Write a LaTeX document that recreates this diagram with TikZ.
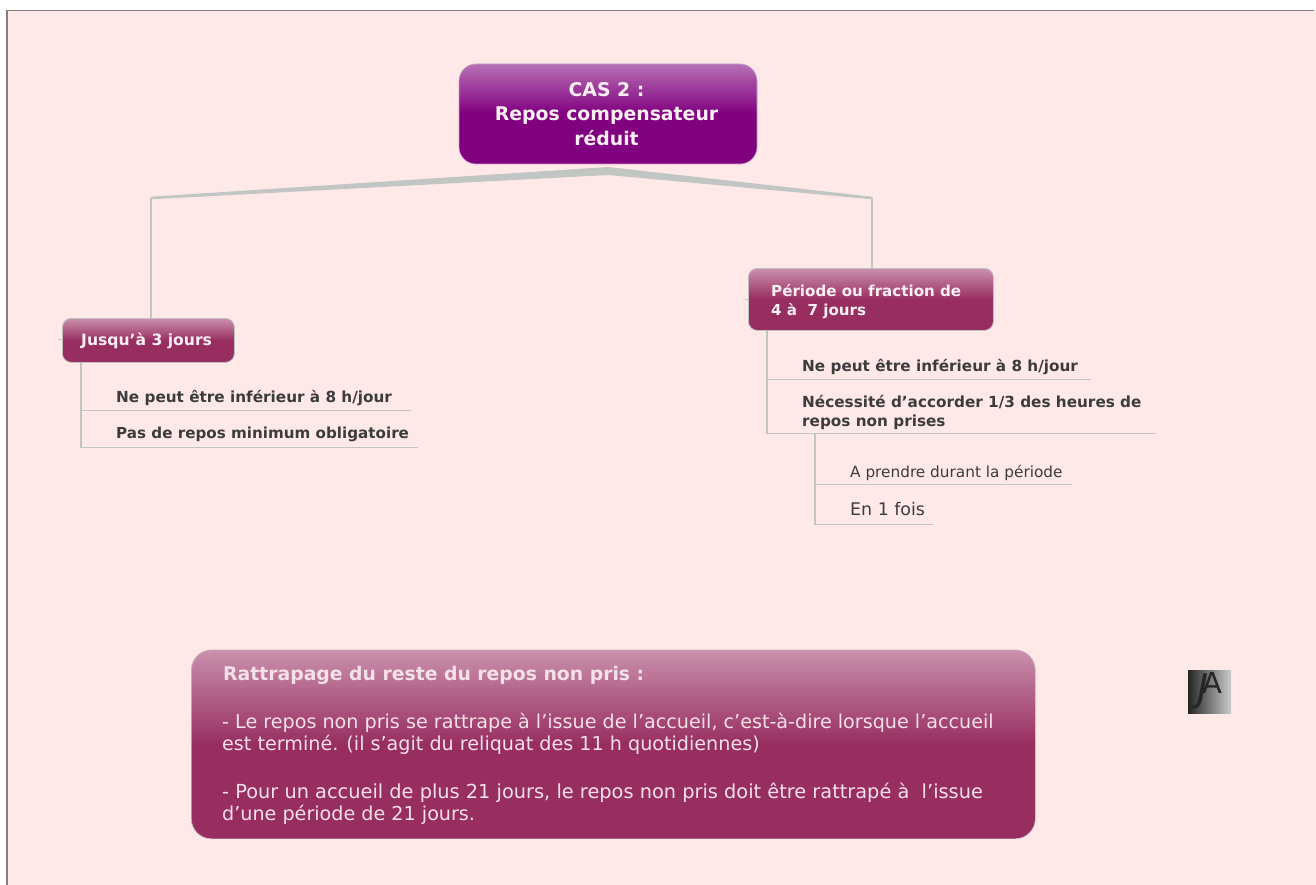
\documentclass[tikz,border=0pt]{standalone}
\usepackage{fontspec}
\usetikzlibrary{calc}
\setmainfont{DejaVu Sans}
\definecolor{bgpink}{HTML}{FFE9E8}
\definecolor{framegray}{HTML}{808080}
\definecolor{linegray}{HTML}{C2C6C2}
\definecolor{txtdark}{HTML}{3C3C3C}
\definecolor{txtlight}{HTML}{FBEFF3}
\definecolor{pdark}{HTML}{800080}
\definecolor{plight}{HTML}{B670B4}
\definecolor{mdark}{HTML}{982E60}
\definecolor{mlight}{HTML}{CA90AC}
\pgfdeclareverticalshading{purpleshade}{100bp}{color(0bp)=(pdark); color(50bp)=(pdark); color(75bp)=(plight); color(100bp)=(plight)}
\pgfdeclareverticalshading{plumshade}{100bp}{color(0bp)=(mdark); color(50bp)=(mdark); color(75bp)=(mlight); color(100bp)=(mlight)}
\pgfdeclareverticalshading{logoshade}{100bp}{color(0bp)=(black!85); color(25bp)=(black!85); color(75bp)=(black!20); color(100bp)=(black!20)}
\tikzset{
  rootbox/.style={rounded corners=17pt, shading=purpleshade, draw=plight!70, line width=.6pt, inner sep=0pt, minimum width=298pt, minimum height=100pt},
  roottext/.style={inner sep=0pt, text=txtlight, align=center, font=\fontsize{18.85}{24.5}\selectfont\bfseries},
  plumbox/.style={rounded corners=9pt, shading=plumshade, draw=black!25, line width=.8pt, inner sep=0pt},
  notebox/.style={rounded corners=20pt, shading=plumshade, draw=black!20, line width=.6pt, inner sep=0pt, minimum width=844pt, minimum height=189pt},
  boxtext/.style={inner sep=0pt, anchor=base west, text=txtlight, font=\fontsize{15.1}{19}\selectfont\bfseries},
  leaftext/.style={inner sep=0pt, anchor=base west, text=txtdark, font=\fontsize{15.25}{19}\selectfont\bfseries},
  subtext/.style={inner sep=0pt, anchor=base west, text=txtdark, font=\fontsize{15.3}{19}\selectfont},
  notetext/.style={inner sep=0pt, anchor=base west, text=txtlight!85!mlight, font=\fontsize{19.15}{21}\selectfont},
  stem/.style={draw=linegray, line width=2pt},
  rule/.style={draw=linegray, line width=1.2pt},
  taper/.style={fill=linegray, draw=none},
}
\begin{document}
\begin{tikzpicture}[x=1pt,y=-1pt]
\useasboundingbox (0,0) rectangle (1316,885);
\fill[white] (0,0) rectangle (1316,885);
\fill[bgpink] (7,10) rectangle (1316,885);
\draw[framegray, line width=1.5pt] (7,885) -- (7,10.5) -- (1314,10.5);

% connector coordinates
\coordinate (hub) at (608,168);
\coordinate (kneeL) at (151,198);
\coordinate (kneeR) at (872,198);
\coordinate (treeLa) at (81,410.5);
\coordinate (treeLb) at (81,447.5);
\coordinate (endLa) at (411,410.5);
\coordinate (endLb) at (418,447.5);
\coordinate (treeRa) at (767,379.5);
\coordinate (treeRb) at (767,433.5);
\coordinate (endRa) at (1091,379.5);
\coordinate (endRb) at (1156,433.5);
\coordinate (treeSa) at (815,484.5);
\coordinate (treeSb) at (815,524.5);
\coordinate (endSa) at (1072,484.5);
\coordinate (endSb) at (933,524.5);
\coordinate (stubL) at (58,339.5);
\coordinate (stubR) at (745,299.5);

% tapered branches
\fill[taper] (hub) ++(0,-1) -- ++(0,8) -- ($(kneeL)+(0,1.3)$) -- ($(kneeL)+(0,-1.3)$) -- cycle;
\fill[taper] (hub) ++(0,-1) -- ++(0,8) -- ($(kneeR)+(0,1.3)$) -- ($(kneeR)+(0,-1.3)$) -- cycle;

% boxes
\node[rootbox] (root) at (608,114) {};
\node[roottext] (roottxt) at (606.5,114) {CAS 2 :\\Repos compensateur\\réduit};
\node[plumbox, minimum width=172pt, minimum height=44pt, anchor=north west] (jusqua) at (62,318) {};
\node[plumbox, minimum width=245pt, minimum height=62pt, anchor=north west] (periode) at (748,268) {};
\node[notebox, anchor=north west] (note) at (191,649.5) {};

\node[boxtext, font=\fontsize{15.6}{19}\selectfont\bfseries] (jusquat) at (81,345) {Jusqu’à 3 jours};
\node[boxtext] (periodeA) at (771,296) {Période ou fraction de};
\node[boxtext] (periodeB) at (771,315) {4 à~~7 jours};

% branch verticals
\draw[stem] (kneeL) -- (kneeL |- jusqua.north);
\draw[stem] (kneeR) -- (kneeR |- periode.north);
\draw[stem] (jusqua.south -| treeLa) -- (treeLb);
\draw[rule] (treeLa) -- (endLa);
\draw[rule] (treeLb) -- (endLb);
\draw[stem] (periode.south -| treeRa) -- (treeRb);
\draw[rule] (treeRa) -- (endRa);
\draw[rule] (treeRb) -- (endRb);
\draw[stem] (treeRb -| treeSa) -- (treeSb);
\draw[rule] (treeSa) -- (endSa);
\draw[rule] (treeSb) -- (endSb);
\draw[rule] (jusqua.west |- stubL) -- (stubL);
\draw[rule] (periode.west |- stubR) -- (stubR);

% leaf texts
\node[leaftext] (l1) at (116,402) {Ne peut être inférieur à 8 h/jour};
\node[leaftext, font=\fontsize{15.15}{19}\selectfont\bfseries] (l2) at (116,438) {Pas de repos minimum obligatoire};
\node[leaftext] (r1) at (802,371) {Ne peut être inférieur à 8 h/jour};
\node[leaftext] (r2) at (802,407) {Nécessité d’accorder 1/3 des heures de};
\node[leaftext] (r3) at (802,426) {repos non prises};
\node[subtext] (s1) at (850,477) {A prendre durant la période};
\node[subtext, font=\fontsize{17.4}{19}\selectfont] (s2) at (850,515) {En 1 fois};

% note text
\node[notetext, font=\fontsize{18.8}{21}\selectfont\bfseries] (n0) at (223,680) {Rattrapage du reste du repos non pris :};
\node[notetext] (n1) at (222,728) {- Le repos non pris se rattrape à l’issue de l’accueil, c’est-à-dire lorsque l’accueil};
\node[notetext] (n2) at (222,750) {est terminé. (il s’agit du reliquat des 11 h quotidiennes)};
\node[notetext, font=\fontsize{19.35}{21}\selectfont] (n3) at (222,798) {- Pour un accueil de plus 21 jours, le repos non pris doit être rattrapé à~~l’issue};
\node[notetext] (n4) at (222,820) {d’une période de 21 jours.};

% logo
\node[shading=logoshade, shading angle=-90, minimum width=43pt, minimum height=43pt, inner sep=0pt, anchor=north west] (logo) at (1188,670) {};
\node[inner sep=0pt, text=black!85, font=\fontsize{38}{38}\selectfont\itshape] (logoJ) at (1203,691) {J};
\node[inner sep=0pt, text=black!85, font=\fontsize{29}{29}\selectfont] (logoA) at (1212,683) {A};
\end{tikzpicture}
\end{document}
